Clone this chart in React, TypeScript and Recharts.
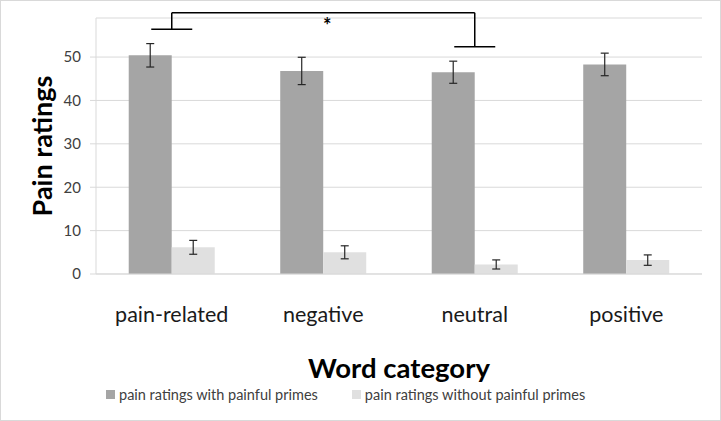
import {Bar, BarChart, CartesianGrid, ErrorBar, Label, Legend, ReferenceLine, XAxis, YAxis} from 'recharts';

const CATEGORIES = ['pain-related', 'negative', 'neutral', 'positive'];
const WITH_PRIMES = [50.4, 46.8, 46.5, 48.3];
const WITH_PRIMES_ERR = [2.7, 3.15, 2.55, 2.6];
const WITHOUT_PRIMES = [6.15, 5.0, 2.2, 3.2];
const WITHOUT_PRIMES_ERR = [1.6, 1.5, 1.05, 1.2];
const Y_TICKS = [0, 10, 20, 30, 40, 50];

// significance bracket: pain-related vs neutral
const BRACKET_FROM = 'pain-related';
const BRACKET_TO = 'neutral';
const BRACKET_TOP = 60.2;
const BRACKET_FOOT_FROM = 56.4;
const BRACKET_FOOT_TO = 52.4;

const FONT = 'Lato, "Open Sans", sans-serif';
const DARK = '#a5a5a5';
const LIGHT = '#e0e0e0';
const GRID = '#d9d9d9';

const data = CATEGORIES.map((name, i) => ({
  name,
  withPrimes: WITH_PRIMES[i],
  withErr: WITH_PRIMES_ERR[i],
  withoutPrimes: WITHOUT_PRIMES[i],
  withoutErr: WITHOUT_PRIMES_ERR[i],
}));

const bracketLeg = (p: any) => (
  <g>
    <line x1={p.x1} y1={p.y1} x2={p.x2} y2={p.y2} stroke="#000" strokeWidth={1.5} />
    <line x1={p.x2 - 20.5} y1={p.y2} x2={p.x2 + 20.5} y2={p.y2} stroke="#000" strokeWidth={1.5} />
  </g>
);

const renderLegend = (props: any) => {
  const items = props.payload || [];
  return (
    <div style={{display: 'flex', alignItems: 'center', height: 20, paddingLeft: 118, fontFamily: FONT, fontSize: 14.5, color: '#404040'}}>
      {items.map((item: any, i: number) => (
        <div key={item.value} style={{display: 'flex', alignItems: 'center', marginRight: i === 0 ? 34 : 0}}>
          <span style={{width: 9, height: 9, background: item.color, marginRight: 4, display: 'inline-block'}} />
          <span>{item.value}</span>
        </div>
      ))}
    </div>
  );
};

export default function App() {
  return (
    <div style={{position: 'absolute', left: 0, top: 0, width: 721, height: 421, boxSizing: 'border-box', border: `1px solid ${GRID}`, background: '#fff'}}>
      <BarChart
        width={719}
        height={419}
        data={data}
        margin={{top: 17, right: 18, left: -13, bottom: 16}}
        barGap={0}
        barCategoryGap="21.6%"
      >
        <CartesianGrid vertical={false} stroke={GRID} />
        <XAxis
          dataKey="name"
          height={110}
          tickLine={false}
          tickSize={0}
          tickMargin={33}
          axisLine={{stroke: GRID}}
          tick={{fontFamily: FONT, fontSize: 21.5, fill: '#1a1a1a'}}
        >
          <Label
            value="Word category"
            position="insideBottom"
            offset={6}
            style={{fontFamily: FONT, fontSize: 27.5, fontWeight: 700, fill: '#000'}}
          />
        </XAxis>
        <YAxis
          width={108}
          domain={[0, 59]}
          ticks={Y_TICKS}
          tickSize={6}
          tickMargin={9}
          tickLine={{stroke: GRID}}
          axisLine={{stroke: GRID}}
          tick={{fontFamily: FONT, fontSize: 15, fill: '#404040'}}
        >
          <Label
            value="Pain ratings"
            angle={-90}
            position="center"
            style={{fontFamily: FONT, fontSize: 27, fontWeight: 700, fill: '#000'}}
          />
        </YAxis>
        <Legend verticalAlign="bottom" content={renderLegend} />
        <Bar dataKey="withPrimes" name="pain ratings with painful primes" fill={DARK} isAnimationActive={false}>
          <ErrorBar dataKey="withErr" width={4} stroke="#262626" strokeWidth={1.2} />
        </Bar>
        <Bar dataKey="withoutPrimes" name="pain ratings without painful primes" fill={LIGHT} isAnimationActive={false}>
          <ErrorBar dataKey="withoutErr" width={4} stroke="#262626" strokeWidth={1.2} />
        </Bar>
        <ReferenceLine
          segment={[{x: BRACKET_FROM, y: BRACKET_TOP}, {x: BRACKET_TO, y: BRACKET_TOP}]}
          ifOverflow="visible"
          stroke="#000"
          strokeWidth={1.5}
          label={{value: '*', position: 'bottom', offset: 6, dx: 4, style: {fontFamily: FONT, fontSize: 20, fontWeight: 700, fill: '#000'}}}
        />
        <ReferenceLine
          segment={[{x: BRACKET_FROM, y: BRACKET_TOP}, {x: BRACKET_FROM, y: BRACKET_FOOT_FROM}]}
          ifOverflow="visible"
          shape={bracketLeg}
        />
        <ReferenceLine
          segment={[{x: BRACKET_TO, y: BRACKET_TOP}, {x: BRACKET_TO, y: BRACKET_FOOT_TO}]}
          ifOverflow="visible"
          shape={bracketLeg}
        />
      </BarChart>
    </div>
  );
}
